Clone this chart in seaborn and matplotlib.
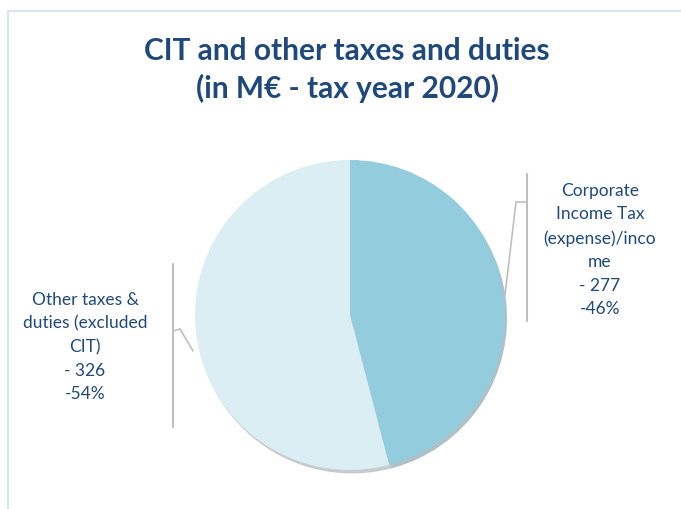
import matplotlib
matplotlib.use("Agg")
import matplotlib.pyplot as plt
from matplotlib.patches import Rectangle
import seaborn as sns

## data
categories = ["Corporate\nIncome Tax\n(expense)/inco\nme", "Other taxes &\nduties (excluded\nCIT)"]
values = [277, 326]
colors = ["#93CDDD", "#DBEEF4"]

sns.set_theme(style="white")
plt.rcParams['font.family'] = ['Lato', 'DejaVu Sans']

W, H = 681, 510
fig = plt.figure(figsize=(W / 100, H / 100), dpi=100)
ax = fig.add_axes([0, 0, 1, 1])

def Y(y):
    # image pixel row -> axes y
    return H - y

text_col = "#1F497D"
line_col = "#BFBFBF"

# chart frame (cut at right/bottom like the screenshot)
ax.add_patch(Rectangle((8, Y(600)), 800, 588, fill=False, edgecolor="#D6E3F0", lw=1.5))

# title
ax.text(347, Y(70), "CIT and other taxes and duties\n(in M\u20ac - tax year 2020)",
        ha="center", va="center", fontsize=21.5, fontweight="bold", color=text_col,
        linespacing=1.35)

# pie
cx, cy, r = 350, 316, 155
wedges, _ = ax.pie(values, colors=colors, startangle=90, counterclock=False,
                   center=(cx, Y(cy)), radius=r, frame=True,
                   shadow={'ox': 1.5, 'oy': -2.5, 'shade': 0.35},
                   wedgeprops=dict(linewidth=0))
ax.set_xlim(0, W)
ax.set_ylim(0, H)
ax.axis("off")

total = sum(values)
labels = [f"{c}\n- {v}\n-{round(100 * v / total)}%" for c, v in zip(categories, values)]

# right label (CIT)
ax.plot([527, 527], [Y(175), Y(322)], color=line_col, lw=1.5)
ax.plot([527, 516, 505], [Y(203), Y(203), Y(296)], color=line_col, lw=1.2)
ax.text(600, Y(250), labels[0], ha="center", va="center", fontsize=12.5,
        color=text_col, linespacing=1.57)

# left label (other taxes)
ax.plot([173, 173], [Y(265), Y(428)], color=line_col, lw=1.5)
ax.plot([173, 180, 193], [Y(332), Y(330), Y(352)], color=line_col, lw=1.2)
ax.text(85, Y(347), labels[1], ha="center", va="center", fontsize=12.5,
        color=text_col, linespacing=1.57)

fig.savefig("out.png", dpi=100)
